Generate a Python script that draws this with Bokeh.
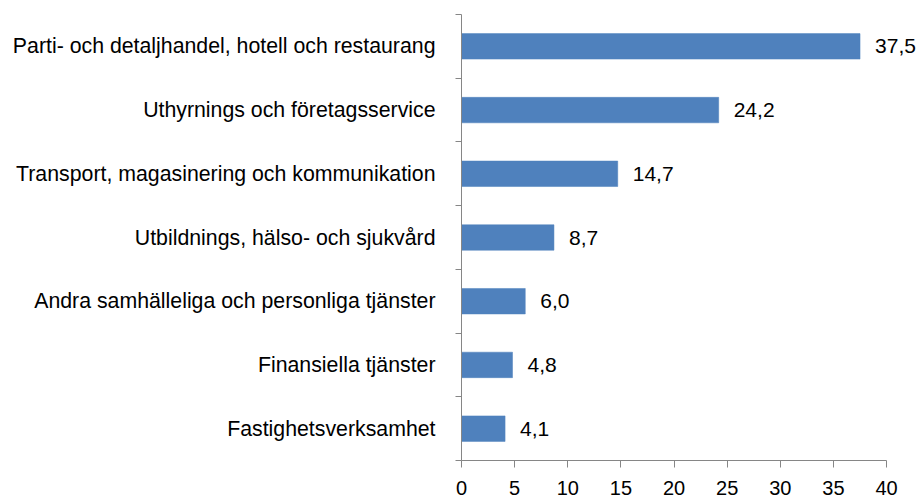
from bokeh.plotting import figure
from bokeh.models import ColumnDataSource, Range1d, FixedTicker, LabelSet
from bokeh.core.properties import value
from bokeh.embed import file_html
from bokeh.resources import INLINE

# Data (bottom to top)
categories = [
    "Fastighetsverksamhet",
    "Finansiella tjänster",
    "Andra samhälleliga och personliga tjänster",
    "Utbildnings, hälso- och sjukvård",
    "Transport, magasinering och kommunikation",
    "Uthyrnings och företagsservice",
    "Parti- och detaljhandel, hotell och restaurang",
]
values = [4.1, 4.8, 6.0, 8.7, 14.7, 24.2, 37.5]
x_ticks = [0, 5, 10, 15, 20, 25, 30, 35, 40]

centers = [i + 0.5 for i in range(len(categories))]
labels = [f"{v:.1f}".replace(".", ",") for v in values]
src = ColumnDataSource(dict(y=centers, v=values, lab=labels))

FONT = "Liberation Sans"
AXIS_GRAY = "#868686"

p = figure(width=919, height=504, output_backend="svg", toolbar_location=None,
           x_range=Range1d(0, 43), y_range=Range1d(0, len(categories)),
           min_border_left=461, min_border_right=1, min_border_top=14,
           min_border_bottom=44)
p.outline_line_color = None
p.grid.visible = False
p.background_fill_color = "white"
p.border_fill_color = "white"

p.hbar(y="y", right="v", left=0, height=0.4, source=src,
       fill_color="#4F81BD", line_color="#4F81BD", line_width=0.5)

vl = LabelSet(x="v", y="y", text="lab", source=src, x_offset=15,
              text_baseline="middle", text_align="left",
              text_font=value(FONT), text_font_size="21px", text_color="black")
p.add_layout(vl)

# x axis
xa = p.xaxis[0]
xa.bounds = (0, 40)
xa.ticker = FixedTicker(ticks=x_ticks, minor_ticks=[])
xa.axis_line_color = AXIS_GRAY
xa.major_tick_line_color = AXIS_GRAY
xa.major_tick_in = 0
xa.major_tick_out = 7
xa.minor_tick_line_color = None
xa.major_label_standoff = 13
xa.major_label_text_font = FONT
xa.major_label_text_font_size = "20px"
xa.major_label_text_color = "black"

# y axis
ya = p.yaxis[0]
ya.ticker = FixedTicker(ticks=centers, minor_ticks=list(range(len(categories) + 1)))
ya.major_label_overrides = {c: name for c, name in zip(centers, categories)}
ya.axis_line_color = AXIS_GRAY
ya.major_tick_line_color = None
ya.major_tick_in = 0
ya.major_tick_out = 0
ya.minor_tick_line_color = AXIS_GRAY
ya.minor_tick_in = 0
ya.minor_tick_out = 6
ya.major_label_standoff = 20
ya.major_label_text_font = FONT
ya.major_label_text_font_size = "21.3px"
ya.major_label_text_color = "black"

open("out.html", "w").write(file_html(p, INLINE))
